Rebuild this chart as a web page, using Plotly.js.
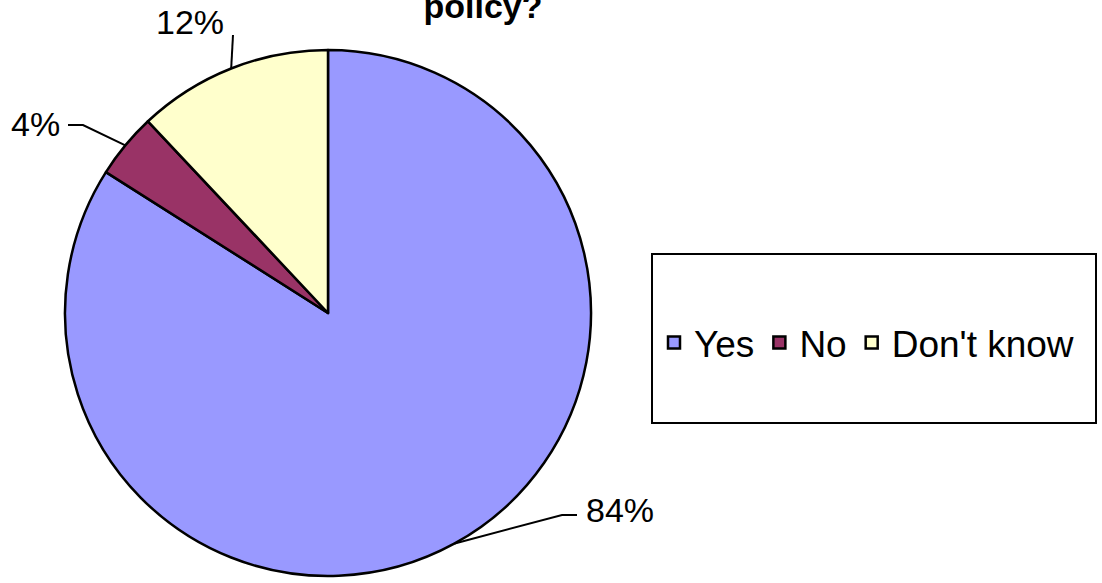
<!DOCTYPE html>
<html>
<head>
<meta charset="utf-8">
<script src="https://cdn.plot.ly/plotly-3.0.1.min.js"></script>
<style>html,body{margin:0;padding:0;background:#fff;}#chart{width:1102px;height:583px;}</style>
</head>
<body>
<div id="chart"></div>
<script>
// ---- data ----
const categories = ['Yes', 'No', "Don't know"];
const values = [84, 4, 12];
const titleText = 'policy?';

// ---- styles ----
const colors = ['#9999FF', '#993366', '#FFFFCC'];
const W = 1102, H = 583;
const FONT = '"Liberation Sans", Arial, sans-serif';
const pieCx = 328, pieCy = 313, pieR = 263; // px
// label placement (px): elbow point, line end near text, text anchor
const labelStyle = [
  {elbow: [562, 515], end: [577, 515], text: [584, 510], anchor: 'left'},
  {elbow: [83, 125],  end: [68, 125],  text: [62, 124],  anchor: 'right'},
  {elbow: [233, 35],  end: [233, 35],  text: [226, 22],  anchor: 'right'}
];

const px = x => x / W;
const py = y => 1 - y / H;

const total = values.reduce((a, b) => a + b, 0);
const shapes = [];
const annotations = [];
let cum = 0;
values.forEach((v, i) => {
  const mid = (cum + v / 2) / total * 2 * Math.PI; // clockwise from top
  cum += v;
  const ex = pieCx + pieR * Math.sin(mid);
  const ey = pieCy - pieR * Math.cos(mid);
  const s = labelStyle[i];
  shapes.push({
    type: 'path', xref: 'paper', yref: 'paper',
    path: `M${px(ex)},${py(ey)} L${px(s.elbow[0])},${py(s.elbow[1])} L${px(s.end[0])},${py(s.end[1])}`,
    line: {color: '#000', width: 2}
  });
  annotations.push({
    xref: 'paper', yref: 'paper', x: px(s.text[0]), y: py(s.text[1]),
    xanchor: s.anchor, yanchor: 'middle', showarrow: false,
    text: Math.round(v / total * 100) + '%',
    font: {family: FONT, size: 34, color: '#000'}
  });
});

// legend frame
shapes.push({
  type: 'rect', xref: 'paper', yref: 'paper',
  x0: px(652), x1: px(1096), y0: py(423), y1: py(254),
  line: {color: '#000', width: 2}, fillcolor: 'rgba(0,0,0,0)'
});

const trace = {
  type: 'pie',
  labels: categories,
  values: values,
  sort: false,
  direction: 'clockwise',
  rotation: 0,
  textinfo: 'none',
  hoverinfo: 'label+percent',
  marker: {colors: colors, line: {color: '#000', width: 2.5}},
  domain: {x: [px(pieCx - pieR), px(pieCx + pieR)], y: [py(pieCy + pieR), py(pieCy - pieR)]}
};

const layout = {
  width: W, height: H,
  margin: {l: 0, r: 0, t: 0, b: 0},
  paper_bgcolor: '#fff',
  font: {family: FONT, color: '#000'},
  title: {
    text: '<b>' + titleText + '</b>',
    font: {family: FONT, size: 34, color: '#000'},
    x: px(483), xanchor: 'center', y: 1 - 6 / H, yanchor: 'middle'
  },
  showlegend: true,
  legend: {
    orientation: 'h', x: px(654), xanchor: 'left', y: py(343), yanchor: 'middle',
    font: {family: FONT, size: 37, color: '#000'},
    bgcolor: 'rgba(0,0,0,0)', borderwidth: 0, traceorder: 'normal'
  },
  shapes: shapes,
  annotations: annotations
};

Plotly.newPlot('chart', [trace], layout, {displayModeBar: false, staticPlot: true});
</script>
</body>
</html>
